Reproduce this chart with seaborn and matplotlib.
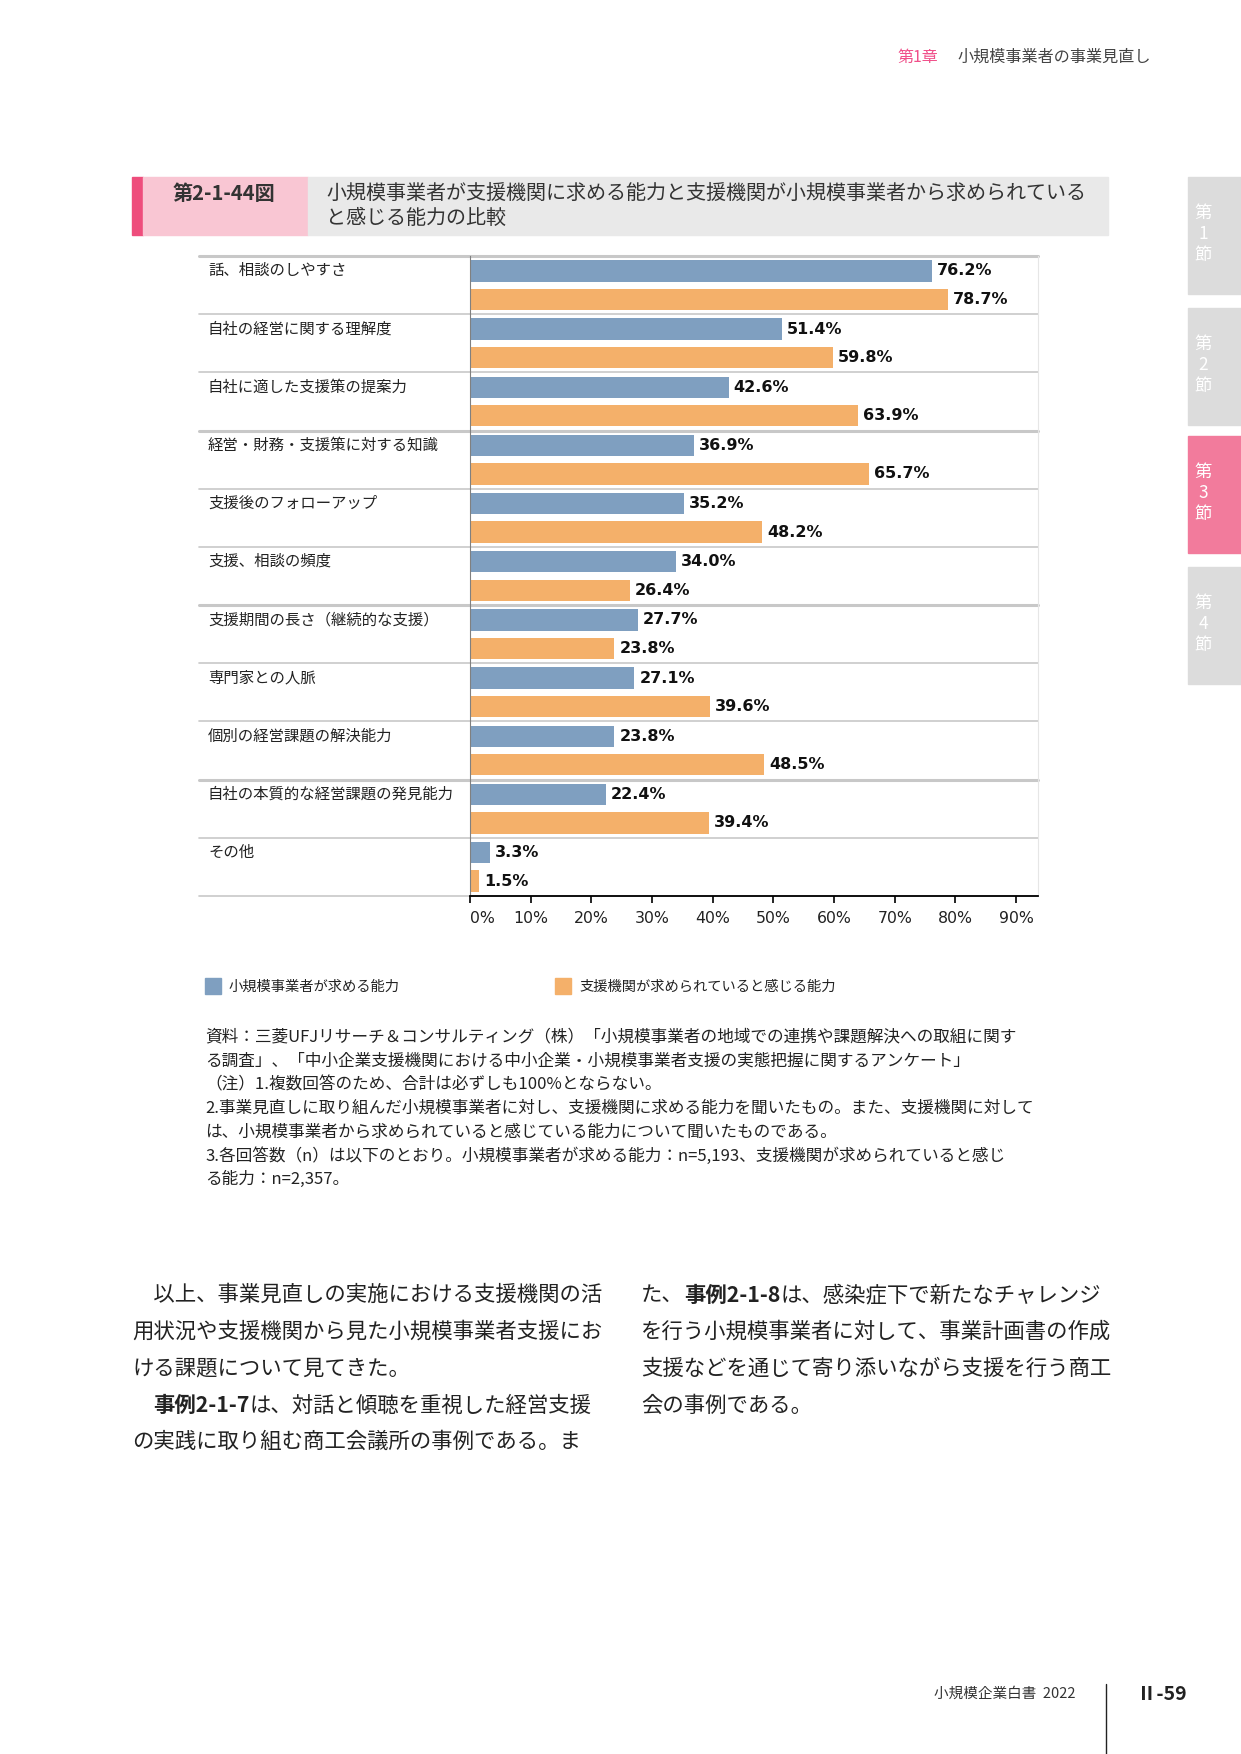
import seaborn as sns
import matplotlib.pyplot as plt
import matplotlib.transforms as mtransforms
from matplotlib.lines import Line2D
from matplotlib.patches import Rectangle
import pandas as pd

categories = ['話、相談のしやすさ', '自社の経営に関する理解度', '自社に適した支援策の提案力',
              '経営・財務・支援策に対する知識', '支援後のフォローアップ', '支援、相談の頻度',
              '支援期間の長さ（継続的な支援）', '専門家との人脈', '個別の経営課題の解決能力',
              '自社の本質的な経営課題の発見能力', 'その他']
series_names = ['小規模事業者が求める能力', '支援機関が求められていると感じる能力']
firm_values = [76.2, 51.4, 42.6, 36.9, 35.2, 34.0, 27.7, 27.1, 23.8, 22.4, 3.3]
support_values = [78.7, 59.8, 63.9, 65.7, 48.2, 26.4, 23.8, 39.6, 48.5, 39.4, 1.5]
x_ticks = [0, 10, 20, 30, 40, 50, 60, 70, 80, 90]

colors = ['#7f9fc0', '#f4b06a']

df = pd.DataFrame({
    'category': categories * 2,
    'series': [series_names[0]] * len(categories) + [series_names[1]] * len(categories),
    'value': firm_values + support_values,
})

sns.set_theme(style='white')
plt.rcParams['font.family'] = ['Noto Sans CJK JP', 'DejaVu Sans']

W, H = 1241, 1754
fig = plt.figure(figsize=(W / 100, H / 100), dpi=100)

# page overlay in pixel coordinates
ov = fig.add_axes([0, 0, 1, 1])
ov.set_xlim(0, W)
ov.set_ylim(H, 0)
ov.axis('off')

# chart
left, right, top, bottom = 470, 1038, 256, 896
ax = fig.add_axes([left / W, 1 - bottom / H, (right - left) / W, (bottom - top) / H])
ax.set_zorder(2)
sns.barplot(data=df, y='category', x='value', hue='series', orient='h',
            palette=colors, width=0.98, gap=0.25, ax=ax, legend=False,
            saturation=1, edgecolor='none')
ax.set_xlim(0, 93.6)
ax.set_ylim(len(categories) - 0.5, -0.5)
ax.set_xticks(x_ticks)
ax.set_xticklabels([f'{t}%' for t in x_ticks], family='DejaVu Sans', fontsize=11.3)
ax.get_xticklabels()[0].set_ha('left')
ax.set_yticks([])
ax.set_xlabel('')
ax.set_ylabel('')
ax.tick_params(axis='x', direction='out', length=5, width=1.2, color='black', pad=6,
               bottom=True, labelcolor='#222222')
ax.spines['left'].set_color('#808080')
ax.spines['left'].set_linewidth(0.8)
ax.spines['right'].set_color('#e6e6e6')
ax.spines['right'].set_linewidth(0.8)
ax.spines['top'].set_visible(False)
ax.spines['bottom'].set_color('black')
ax.spines['bottom'].set_linewidth(1.3)

for cont in ax.containers:
    ax.bar_label(cont, fmt='%.1f%%', padding=3.5, fontsize=11.5, fontweight='bold',
                 family='DejaVu Sans', color='#111111')

blend = mtransforms.blended_transform_factory(fig.transFigure, ax.transData)
for i, cat in enumerate(categories):
    ax.text(208 / W, i - 0.25, cat, transform=blend, fontsize=11.1, va='center',
            ha='left', color='#222222', clip_on=False)
for b in range(len(categories) + 1):
    yb = b - 0.5
    thick = b in (0, 3, 6, 9)
    ax.add_line(Line2D([199 / W, right / W], [yb, yb], transform=blend,
                       color='#c8c8c8', lw=2.2 if thick else 1.2, clip_on=False, zorder=0))

# legend
ov.add_patch(Rectangle((205, 978), 16, 16, color=colors[0]))
ov.text(229, 987, series_names[0], fontsize=10.3, va='center', color='#222222')
ov.add_patch(Rectangle((555, 978), 16, 16, color=colors[1]))
ov.text(579, 987, series_names[1], fontsize=10.3, va='center', color='#222222')

# notes
notes = [
    '資料：三菱UFJリサーチ＆コンサルティング（株）「小規模事業者の地域での連携や課題解決への取組に関す',
    'る調査」、「中小企業支援機関における中小企業・小規模事業者支援の実態把握に関するアンケート」',
    '（注）1.複数回答のため、合計は必ずしも100%とならない。',
    '2.事業見直しに取り組んだ小規模事業者に対し、支援機関に求める能力を聞いたもの。また、支援機関に対して',
    'は、小規模事業者から求められていると感じている能力について聞いたものである。',
    '3.各回答数（n）は以下のとおり。小規模事業者が求める能力：n=5,193、支援機関が求められていると感じ',
    'る能力：n=2,357。',
]
for k, line in enumerate(notes):
    ov.text(205, 1037 + k * 23.8, line, fontsize=12.0, va='center', color='#222222')

# header band
ov.add_patch(Rectangle((132, 177), 11, 58, color='#ee4d7c'))
ov.add_patch(Rectangle((143, 177), 165, 58, color='#f9c6d3'))
ov.add_patch(Rectangle((308, 177), 800, 58, color='#e9e9e9'))
ov.text(173, 193, '第2-1-44図', fontsize=14.5, fontweight='bold', va='center', color='#333333')
ov.text(326, 193, '小規模事業者が支援機関に求める能力と支援機関が小規模事業者から求められている',
        fontsize=14.45, va='center', color='#333333')
ov.text(326, 218, 'と感じる能力の比較', fontsize=14.45, va='center', color='#333333')

# running head
ov.text(897, 57, '第1章', fontsize=11.5, va='center', color='#f0508a')
ov.text(957, 57, '小規模事業者の事業見直し', fontsize=11.6, va='center', color='#444444')

# side tabs
tabs = [(177, '1', '#dcdcdc'), (308, '2', '#dcdcdc'), (436, '3', '#f27b9c'), (567, '4', '#dcdcdc')]
for y0, num, c in tabs:
    ov.add_patch(Rectangle((1188, y0), 53, 117, color=c))
    for j, ch in enumerate(['第', num, '節']):
        ov.text(1203, y0 + 36 + j * 21, ch, fontsize=12.5, ha='center', va='center', color='white')

# body text
renderer = fig.canvas.get_renderer()


def draw_segments(x, y, segments):
    for txt, bold in segments:
        t = ov.text(x, y, txt, fontsize=15.4, va='center', ha='left', color='#222222',
                    fontweight='bold' if bold else 'normal')
        x += t.get_window_extent(renderer).width


left_col = [
    [('\u3000以上、事業見直しの実施における支援機関の活', False)],
    [('用状況や支援機関から見た小規模事業者支援にお', False)],
    [('ける課題について見てきた。', False)],
    [('\u3000', False), ('事例2-1-7', True), ('は、対話と傾聴を重視した経営支援', False)],
    [('の実践に取り組む商工会議所の事例である。ま', False)],
]
right_col = [
    [('た、', False), ('事例2-1-8', True), ('は、感染症下で新たなチャレンジ', False)],
    [('を行う小規模事業者に対して、事業計画書の作成', False)],
    [('支援などを通じて寄り添いながら支援を行う商工', False)],
    [('会の事例である。', False)],
]
for k, segs in enumerate(left_col):
    draw_segments(132, 1295 + k * 36.8, segs)
for k, segs in enumerate(right_col):
    draw_segments(641, 1295 + k * 36.8, segs)

# footer
ov.text(934, 1694, '小規模企業白書  2022', fontsize=10.5, va='center', color='#333333')
ov.add_line(Line2D([1106, 1106], [1684, 1754], color='#222222', lw=1))
ov.text(1137, 1694, 'Ⅱ-59', fontsize=14, fontweight='bold', va='center', color='#222222')

fig.savefig('out.png', dpi=100)
